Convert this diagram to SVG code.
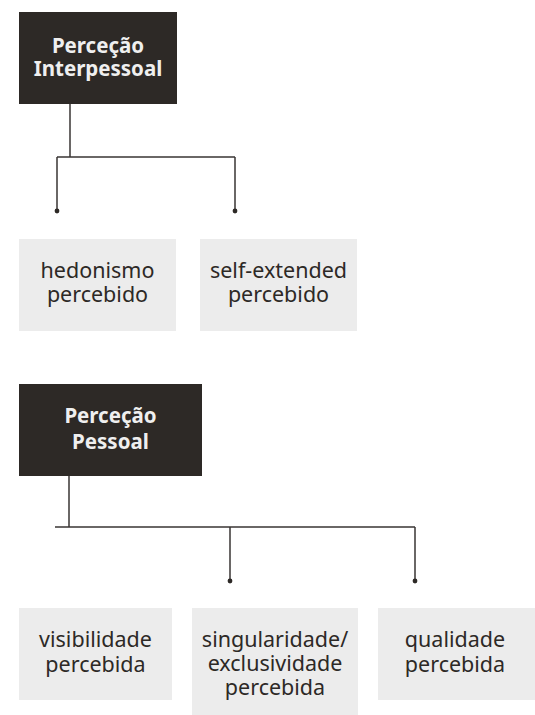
<svg xmlns="http://www.w3.org/2000/svg" width="535" height="715" viewBox="0 0 535 715">
  <style>
    .head rect { fill: #2d2926; }
    .head text { fill: #efefef; font-family: "Noto Sans", "Open Sans", sans-serif; font-weight: bold; font-size: 20.5px; text-anchor: middle; }
    .leaf rect { fill: #ececec; }
    .leaf text { fill: #2d2926; font-family: "Noto Sans", "Open Sans", sans-serif; font-size: 21.5px; text-anchor: middle; }
    .wire { fill: none; stroke: #3a3634; stroke-width: 1.5; }
    .dot { fill: #2d2926; }
  </style>
  <rect width="535" height="715" fill="#ffffff"/>

  <!-- connectors -->
  <g id="connectors">
    <path class="wire" d="M70 104 V157 M57 157 H235 M57 157 V211 M235 157 V211"/>
    <circle class="dot" cx="57" cy="211" r="2.4"/>
    <circle class="dot" cx="235" cy="211" r="2.4"/>
    <path class="wire" d="M69 476 V527 M55 527 H415 M230 527 V581 M415 527 V581"/>
    <circle class="dot" cx="230" cy="581" r="2.4"/>
    <circle class="dot" cx="415" cy="581" r="2.4"/>
  </g>

  <!-- first group -->
  <g id="percecao-interpessoal" class="head">
    <rect x="19" y="12" width="158" height="92"/>
    <text x="98" y="52.5">Perceção</text>
    <text x="98" y="75.5">Interpessoal</text>
  </g>
  <g id="hedonismo" class="leaf">
    <rect x="19" y="239" width="157" height="92"/>
    <text x="97.5" y="278">hedonismo</text>
    <text x="97.5" y="302">percebido</text>
  </g>
  <g id="self-extended" class="leaf">
    <rect x="200" y="239" width="157" height="92"/>
    <text x="278.5" y="278">self-extended</text>
    <text x="278.5" y="302">percebido</text>
  </g>

  <!-- second group -->
  <g id="percecao-pessoal" class="head">
    <rect x="19" y="384" width="183" height="92"/>
    <text x="110.5" y="423">Perceção</text>
    <text x="110.5" y="449">Pessoal</text>
  </g>
  <g id="visibilidade" class="leaf">
    <rect x="19" y="608" width="153" height="92"/>
    <text x="95.5" y="647">visibilidade</text>
    <text x="95.5" y="672">percebida</text>
  </g>
  <g id="singularidade" class="leaf">
    <rect x="192" y="608" width="166" height="107"/>
    <text x="275" y="647">singularidade/</text>
    <text x="275" y="671">exclusividade</text>
    <text x="275" y="695">percebida</text>
  </g>
  <g id="qualidade" class="leaf">
    <rect x="378" y="608" width="157" height="92"/>
    <text x="455" y="647">qualidade</text>
    <text x="455" y="672">percebida</text>
  </g>
</svg>
